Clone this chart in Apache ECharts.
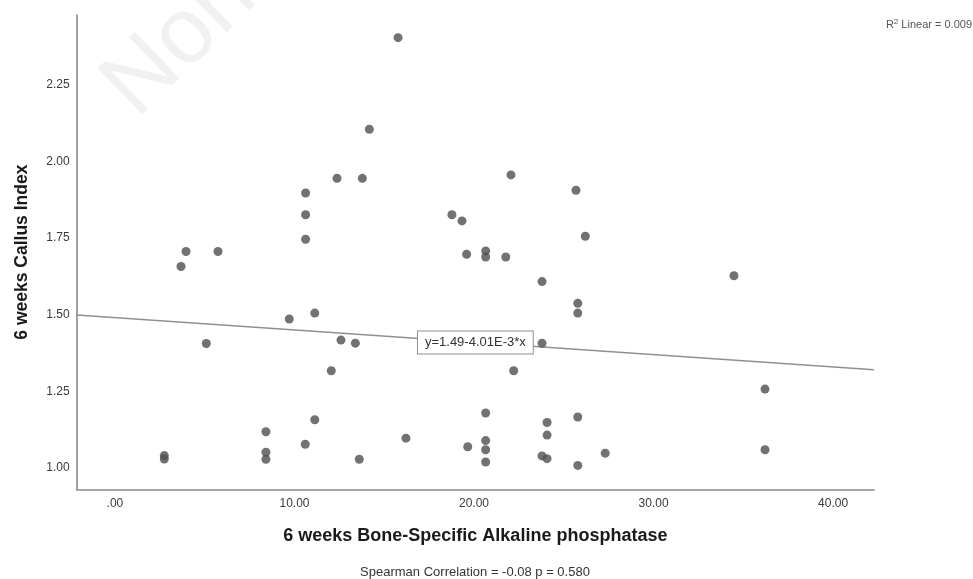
<!DOCTYPE html>
<html>
<head>
<meta charset="utf-8">
<script src="https://cdn.jsdelivr.net/npm/echarts@6/dist/echarts.min.js"></script>
<style>
html,body{margin:0;padding:0;background:#fff;}
#chart{width:973px;height:579px;}
</style>
</head>
<body>
<div id="chart"></div>
<script>
// 6 weeks Bone-Specific Alkaline phosphatase (x)
const bsapValues = [
  15.77, 14.17, 12.37, 13.78, 10.62, 10.62, 10.62, 22.06, 18.77, 19.33,
  25.68, 26.20, 19.59, 20.65, 20.65, 21.77, 23.79, 25.78, 25.78, 11.13,
  12.59, 13.39, 23.79, 12.05, 22.21, 20.65, 11.13, 25.78, 24.07, 24.07,
  10.60, 16.21, 19.65, 20.65, 20.65, 20.65, 13.61, 23.79, 24.07, 25.78,
  27.31, 3.96, 3.68, 5.74, 9.71, 5.09, 8.41, 8.41, 8.41, 2.75,
  2.75, 34.48, 36.21, 36.21
];
// 6 weeks Callus Index (y)
const callusValues = [
  2.404, 2.105, 1.945, 1.945, 1.897, 1.826, 1.746, 1.956, 1.826, 1.806,
  1.906, 1.756, 1.697, 1.708, 1.688, 1.688, 1.608, 1.537, 1.505, 1.505,
  1.417, 1.407, 1.407, 1.317, 1.317, 1.179, 1.157, 1.166, 1.148, 1.107,
  1.077, 1.097, 1.069, 1.089, 1.059, 1.019, 1.028, 1.039, 1.030, 1.008,
  1.048, 1.706, 1.657, 1.706, 1.486, 1.406, 1.118, 1.051, 1.028, 1.040,
  1.029, 1.627, 1.257, 1.059
];
const xTickValues = [0, 10, 20, 30, 40];
const xTickLabels = ['.00', '10.00', '20.00', '30.00', '40.00'];
const yTickValues = [1.00, 1.25, 1.50, 1.75, 2.00, 2.25];
const yTickLabels = ['1.00', '1.25', '1.50', '1.75', '2.00', '2.25'];

// reported linear fit
const regIntercept = 1.49;
const regSlope = -4.01e-3;
const regLabel = 'y=1.49-4.01E-3*x';
const r2Text = '0.009';
const spearmanText = 'Spearman Correlation = -0.08 p = 0.580';

const xAxisMin = -2.13, xAxisMax = 42.28;
const yAxisMin = 0.930, yAxisMax = 2.478;

const points = bsapValues.map((x, i) => [x, callusValues[i]]);
const regLine = [
  [xAxisMin, regIntercept + regSlope * xAxisMin],
  [xAxisMax, regIntercept + regSlope * xAxisMax]
];
const xMid = (xAxisMin + xAxisMax) / 2;
const yMid = regIntercept + regSlope * xMid;

const FONT = '"Liberation Sans", Arial, sans-serif';
const chart = echarts.init(document.getElementById('chart'), null, {renderer: 'canvas'});

chart.setOption({
  backgroundColor: '#ffffff',
  animation: false,
  grid: {left: 76.7, right: 99, top: 15, bottom: 89.7, containLabel: false},
  xAxis: {
    type: 'value',
    min: xAxisMin, max: xAxisMax,
    name: '6 weeks Bone-Specific Alkaline phosphatase',
    nameLocation: 'middle',
    nameGap: 38,
    nameTextStyle: {fontFamily: FONT, fontWeight: 'bold', fontSize: 18, color: '#1a1a1a'},
    axisLine: {show: true, onZero: false, lineStyle: {color: '#8a8a8a', width: 1.6}},
    axisTick: {show: false},
    splitLine: {show: false},
    axisLabel: {
      customValues: xTickValues,
      margin: 8,
      fontFamily: FONT, fontSize: 12, color: '#3a3a3a',
      formatter: v => { const i = xTickValues.findIndex(t => Math.abs(t - v) < 1e-6); return i >= 0 ? xTickLabels[i] : ''; }
    }
  },
  yAxis: {
    type: 'value',
    min: yAxisMin, max: yAxisMax,
    name: '6 weeks Callus Index',
    nameLocation: 'middle',
    nameGap: 46,
    nameTextStyle: {fontFamily: FONT, fontWeight: 'bold', fontSize: 17.5, color: '#1a1a1a'},
    axisLine: {show: true, onZero: false, lineStyle: {color: '#8a8a8a', width: 1.6}},
    axisTick: {show: false},
    splitLine: {show: false},
    axisLabel: {
      customValues: yTickValues,
      margin: 7,
      fontFamily: FONT, fontSize: 12, color: '#3a3a3a',
      formatter: v => { const i = yTickValues.findIndex(t => Math.abs(t - v) < 1e-6); return i >= 0 ? yTickLabels[i] : ''; }
    }
  },
  graphic: [
    {
      type: 'text', z: 0, silent: true,
      x: 119, y: 101, rotation: 0.77,
      style: {text: 'Non-commercial use only', fontFamily: FONT, fontSize: 93, fill: '#f1f1f1', align: 'left', verticalAlign: 'middle'}
    },
    {
      type: 'text', z: 10,
      right: 1, top: 18,
      style: {
        text: '{r|R}{s|2}{r| Linear = ' + r2Text + '}',
        rich: {
          r: {fontFamily: FONT, fontSize: 11, fill: '#555', color: '#555'},
          s: {fontFamily: FONT, fontSize: 8, fill: '#555', color: '#555', verticalAlign: 'top', padding: [0, 0, 6, 0]}
        }
      }
    },
    {
      type: 'text', z: 10,
      x: 475, y: 572,
      style: {text: spearmanText, fontFamily: FONT, fontSize: 13, fill: '#333', align: 'center', verticalAlign: 'middle'}
    }
  ],
  series: [
    {
      type: 'line',
      data: regLine,
      symbol: 'none',
      lineStyle: {color: '#8f8f8f', width: 1.5},
      z: 2,
      markPoint: {
        symbol: 'rect', symbolSize: 1,
        itemStyle: {color: 'rgba(0,0,0,0)'},
        label: {
          show: true, position: 'inside',
          formatter: regLabel,
          fontFamily: FONT, fontSize: 13, color: '#333',
          backgroundColor: '#fff', borderColor: '#8f8f8f', borderWidth: 1,
          padding: [5, 7, 4, 7]
        },
        data: [{coord: [xMid, yMid]}]
      }
    },
    {
      type: 'scatter',
      data: points,
      symbol: 'circle',
      symbolSize: 9,
      itemStyle: {color: '#4f4f4f'},
      z: 3
    }
  ]
});
</script>
</body>
</html>
